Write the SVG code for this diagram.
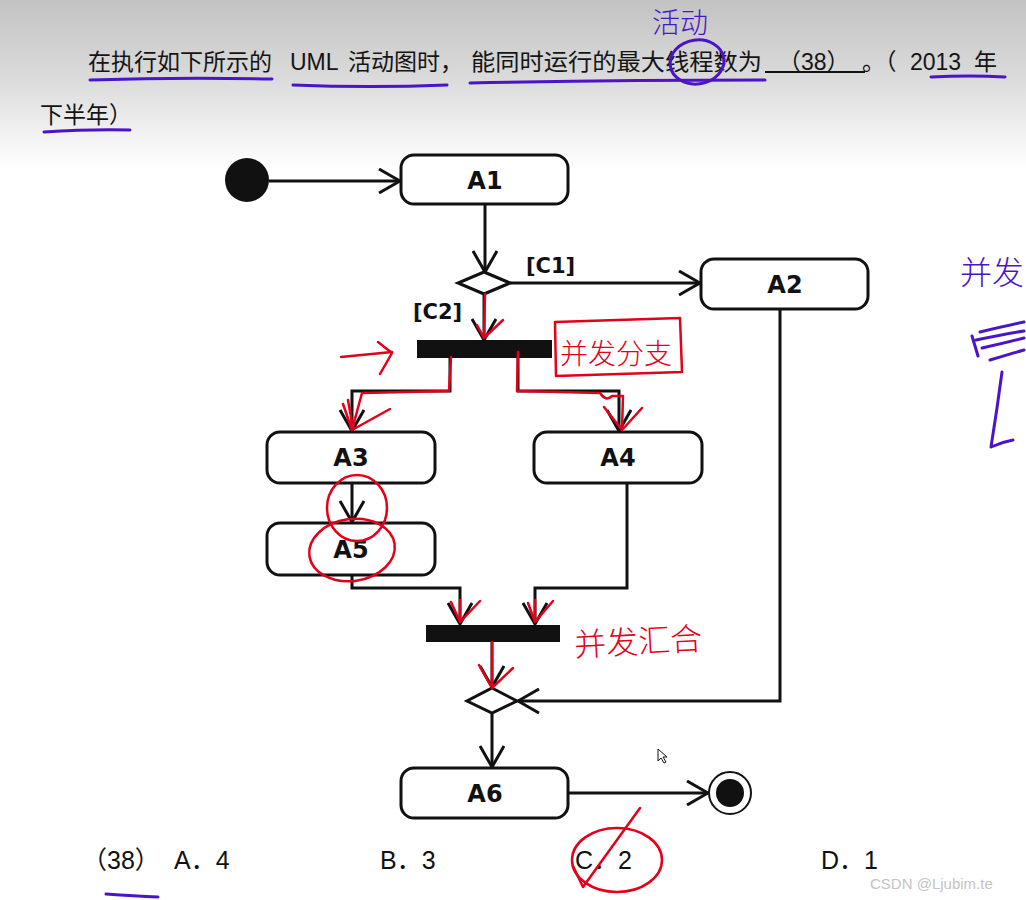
<svg xmlns="http://www.w3.org/2000/svg" width="1026" height="900" viewBox="0 0 1026 900">
<defs>
<linearGradient id="bg" x1="0" y1="0" x2="0" y2="170" gradientUnits="userSpaceOnUse">
<stop offset="0" stop-color="#c3c3c3"/>
<stop offset="0.45" stop-color="#dadada"/>
<stop offset="0.8" stop-color="#f2f2f2"/>
<stop offset="1" stop-color="#ffffff"/>
</linearGradient>
<marker id="arr" viewBox="0 0 24 26" refX="22" refY="13" markerWidth="24" markerHeight="26" orient="auto" markerUnits="userSpaceOnUse">
<path d="M1,1 L22,13 L1,25" fill="none" stroke="#111" stroke-width="3"/>
</marker>
<style>
.line{fill:none;stroke:#111;stroke-width:3;marker-end:url(#arr)}
.act{fill:#fff;stroke:#111;stroke-width:3}
.lbl{font-family:"DejaVu Sans",Verdana,sans-serif;font-weight:bold;font-size:24px;fill:#111;text-anchor:middle}
.guard{font-family:"DejaVu Sans",Verdana,sans-serif;font-weight:bold;font-size:21px;fill:#111}
.q{font-family:"Liberation Sans","Noto Sans CJK SC",sans-serif;font-size:23px;fill:#141414}
.opt{font-family:"Liberation Sans","Noto Sans CJK SC",sans-serif;font-size:25px;fill:#111}
.red{fill:none;stroke:#e3001b;stroke-width:2.5;stroke-linecap:round;stroke-linejoin:round}
.pur{fill:none;stroke:#4a14c8;stroke-width:3;stroke-linecap:round;stroke-linejoin:round}
.hw-red{font-family:"Noto Sans CJK SC",sans-serif;font-weight:300;fill:#e3001b}
.hw-pur{font-family:"Noto Sans CJK SC",sans-serif;font-weight:300;fill:#4a14c8}
</style>
</defs>
<rect x="0" y="0" width="1026" height="900" fill="#fff"/>
<rect x="0" y="0" width="1026" height="170" fill="url(#bg)"/>

<g id="question">
<text class="q" x="88" y="70" textLength="184" lengthAdjust="spacingAndGlyphs">在执行如下所示的</text>
<text class="q" x="290" y="70">UML</text>
<text class="q" x="348" y="70">活动图时，</text>
<text class="q" x="471" y="70" textLength="291" lengthAdjust="spacingAndGlyphs">能同时运行的最大线程数为</text>
<text class="q" x="778" y="70">（38）</text>
<line x1="765" y1="72" x2="865" y2="72" stroke="#111" stroke-width="2"/>
<text class="q" x="862" y="70">。（</text>
<text class="q" x="910" y="70">2013</text>
<text class="q" x="974" y="70">年</text>
<text class="q" x="40" y="123">下半年）</text>
</g>

<g id="connectors">
<path class="line" d="M269,181 H400"/>
<path class="line" d="M485,204 V272"/>
<path class="line" d="M510,283 H700"/>
<path class="line" d="M484,294 V340"/>
<path class="line" d="M450,358 V391 H352 V431"/>
<path class="line" d="M518,358 V391 H619 V431"/>
<path class="line" d="M352,484 V522"/>
<path class="line" d="M352,575 V588 H460 V624"/>
<path class="line" d="M627,484 V588 H535 V624"/>
<path class="line" d="M492,642 V687"/>
<path class="line" d="M780,310 V701 H518"/>
<path class="line" d="M492,713 V767"/>
<path class="line" d="M568,793 H708"/>
<text class="guard" x="526" y="273">[C1]</text>
<text class="guard" x="413" y="319">[C2]</text>
</g>

<g id="start"><circle cx="247" cy="180" r="22" fill="#111"/></g>
<g id="A1"><rect class="act" x="401" y="155" width="167" height="49" rx="13"/><text class="lbl" x="485" y="189">A1</text></g>
<g id="decision1"><polygon points="484,272 510,283 484,294 458,283" fill="#fff" stroke="#111" stroke-width="3"/></g>
<g id="A2"><rect class="act" x="701" y="259" width="167" height="50" rx="13"/><text class="lbl" x="785" y="293">A2</text></g>
<g id="fork"><rect x="417" y="340" width="135" height="18" fill="#111"/></g>
<g id="A3"><rect class="act" x="267" y="432" width="168" height="51" rx="13"/><text class="lbl" x="351" y="466">A3</text></g>
<g id="A4"><rect class="act" x="534" y="432" width="168" height="51" rx="13"/><text class="lbl" x="618" y="466">A4</text></g>
<g id="A5"><rect class="act" x="267" y="523" width="168" height="52" rx="13"/><text class="lbl" x="351" y="558">A5</text></g>
<g id="join"><rect x="426" y="625" width="134" height="17" fill="#111"/></g>
<g id="decision2"><polygon points="492,688 517,701 492,713 467,701" fill="#fff" stroke="#111" stroke-width="3"/></g>
<g id="A6"><rect class="act" x="401" y="768" width="167" height="50" rx="13"/><text class="lbl" x="485" y="802">A6</text></g>
<g id="final"><circle cx="730" cy="793" r="21" fill="#fff" stroke="#111" stroke-width="2"/><circle cx="730" cy="793" r="14" fill="#111"/></g>

<g id="options">
<text class="opt" x="82" y="869">（38）</text>
<text class="opt" x="174" y="869">A．4</text>
<text class="opt" x="380" y="869">B．3</text>
<text class="opt" x="575" y="869">C．2</text>
<text class="opt" x="821" y="869">D．1</text>
<text x="870" y="889" font-family="Liberation Sans,sans-serif" font-size="15" fill="#c4c4c4">CSDN @Ljubim.te</text>
</g>

<g id="annotations-purple">
<path class="pur" d="M90,80 Q180,77 272,79"/>
<path class="pur" d="M293,85 Q370,88 447,85"/>
<path class="pur" d="M470,83 Q620,80 765,80"/>
<ellipse class="pur" cx="697" cy="62" rx="27" ry="22" transform="rotate(-8 697 62)"/>
<path class="pur" d="M931,77 Q970,75 1005,77"/>
<path class="pur" d="M44,132 Q90,129 130,130"/>
<path class="pur" d="M106,894 Q135,896 158,897"/>
<text class="hw-pur" x="652" y="33" font-size="28">活动</text>
<text class="hw-pur" x="960" y="284" font-size="32">并发</text>
<path class="pur" d="M972,336 L978,356 M980,332 Q1005,326 1024,322 M976,340 Q1005,334 1024,331 M982,348 Q1005,343 1024,338 M990,360 Q1010,354 1024,350"/>
<path class="pur" d="M1002,372 Q997,410 991,447 M991,447 Q1002,442 1013,440"/>
</g>

<g id="annotations-red">
<path class="red" d="M485,294 L484,338 M477,325 L484,338 L503,320"/>
<path class="red" d="M341,357 L392,352 M378,342 L392,353 L380,374"/>
<path class="red" d="M451,357 L449,391 L362,393 L352,430 M343,404 L352,430 L390,409 M348,400 L353,428"/>
<path class="red" d="M518,352 L517,391 L600,393 Q606,402 612,396 L623,396 L622,430 M604,407 L622,430 L642,408"/>
<path class="red" d="M460,600 L460,622 M451,602 L460,622 L480,601"/>
<path class="red" d="M535,600 L535,622 M528,603 L535,622 L553,601"/>
<path class="red" d="M492,642 L492,688 M479,665 L492,688 L513,668"/>
<path class="red" d="M555,322 L680,318 L682,372 L556,376 Z"/>
<text class="hw-red" x="560" y="364" font-size="28">并发分支</text>
<text class="hw-red" x="574" y="653" font-size="32" transform="rotate(-3 640 640)">并发汇合</text>
<ellipse class="red" cx="357" cy="508" rx="30" ry="33"/>
<ellipse class="red" cx="352" cy="550" rx="43" ry="31" transform="rotate(-8 352 550)"/>
<ellipse class="red" cx="617" cy="860" rx="45" ry="32"/>
<path class="red" d="M573,866 L583,887 L640,808"/>
</g>

<g id="cursor"><polygon points="658,749 658,761 661,758 664,763 666,762 663,757 667,757" fill="#fff" stroke="#111" stroke-width="1"/></g>
</svg>
